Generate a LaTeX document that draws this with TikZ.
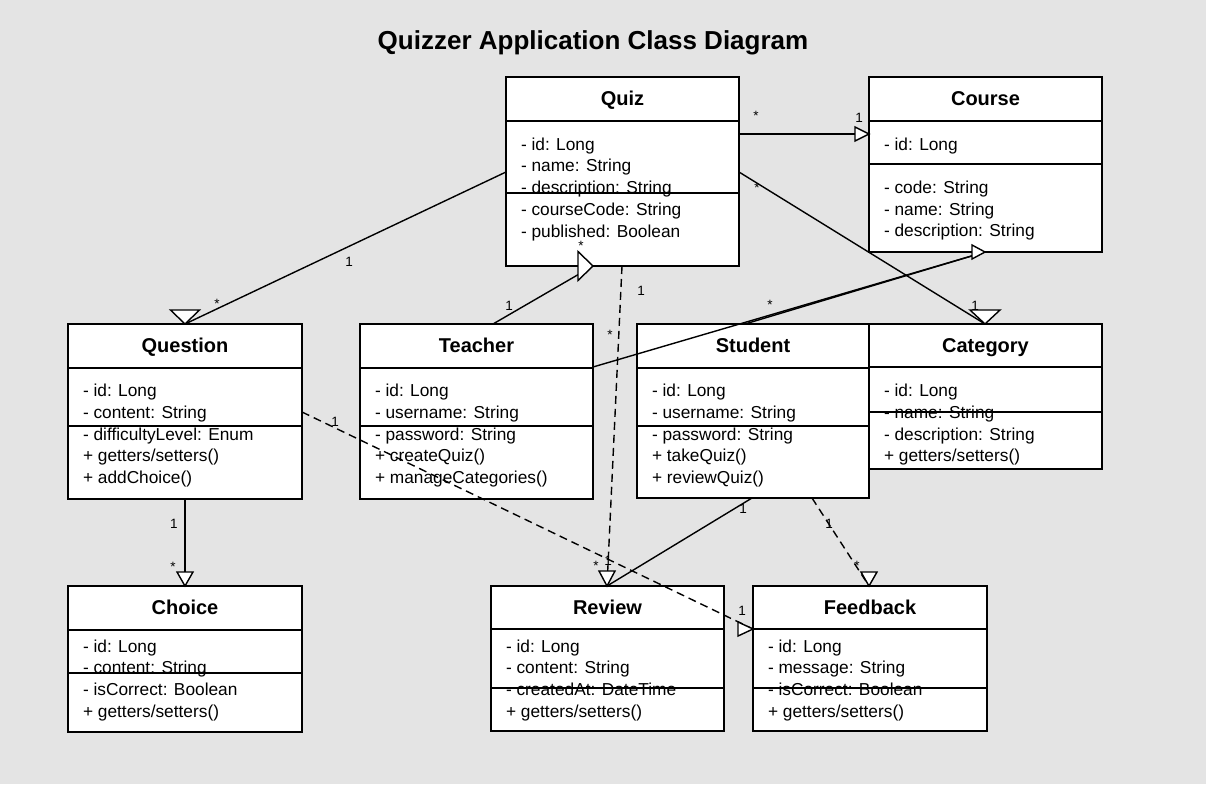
\documentclass[tikz,border=0pt]{standalone}
\usepackage{fontspec}
\setmainfont{Liberation Sans}
\definecolor{bggray}{RGB}{228,228,228}
\newcommand{\umlclass}[8]{%
  \node[classbox, minimum width={(#4-#2)*1pt}, minimum height={(#5-#3)*1pt}] (#1) at (#2,#3) {};
  \draw[divider] (#2,#6) -- (#4,#6);
  \draw[divider] (#2,#7) -- (#4,#7);
  \node[ctitle] (#1-title) at ({(#2+#4)/2},#3+28) {#8};
}
\newcommand{\umllines}[4]{%
  \foreach \tx [count=\i from 0] in {#4} {
    \node[attr] (#1-\i) at (#2+15, #3+\i*21.75) {\tx};
  }
}
\newcommand{\tridown}[4]{\draw[headtri] (#1-#3,#2-#4) -- (#1+#3,#2-#4) -- (#1,#2) -- cycle;}
\newcommand{\triright}[4]{\draw[headtri] (#1-#4,#2-#3) -- (#1-#4,#2+#3) -- (#1,#2) -- cycle;}
\begin{document}
\begin{tikzpicture}[x=1pt,y=-1pt,
  every node/.style={inner sep=0pt, outer sep=0pt},
  classbox/.style={draw=black, line width=2.9pt, fill=white, anchor=north west},
  divider/.style={line width=2.9pt},
  ctitle/.style={font=\fontsize{20}{24}\selectfont\bfseries, anchor=base},
  attr/.style={font=\fontsize{17.3}{21.75}\selectfont, anchor=base west},
  mult/.style={font=\fontsize{13.5}{16}\selectfont, anchor=base},
  assoc/.style={line width=1.4pt},
  depend/.style={line width=1.4pt, dash pattern=on 8pt off 5pt},
  headtri/.style={draw=black, fill=white, line width=1.4pt, line join=miter}
]
\fill[bggray] (0,0) rectangle (1206,784);
\useasboundingbox (0,0) rectangle (1206,784);

\node[font=\fontsize{26}{30}\selectfont\bfseries, anchor=base] (title) at (593,49) {Quizzer Application Class Diagram};

% classes
\umlclass{quiz}{506}{77}{739}{266}{121}{193}{Quiz}
\umllines{quiz}{506}{150}{{- id: Long},{- name: String},{- description: String},{- courseCode: String},{- published: Boolean}}

\umlclass{course}{869}{77}{1102}{252}{121}{164}{Course}
\umllines{course}{869}{150}{{- id: Long}}
\umllines{coursem}{869}{193.3}{{- code: String},{- name: String},{- description: String}}

\umlclass{question}{68}{324}{302}{499}{368}{426}{Question}
\umllines{question}{68}{396.7}{{- id: Long},{- content: String},{- difficultyLevel: Enum},{+ getters/setters()},{+ addChoice()}}

\umlclass{teacher}{360}{324}{593}{499}{368}{426}{Teacher}
\umllines{teacher}{360}{396.7}{{- id: Long},{- username: String},{- password: String},{+ createQuiz()},{+ manageCategories()}}

\umlclass{student}{637}{324}{869}{498}{368}{426}{Student}
\umllines{student}{637}{396.7}{{- id: Long},{- username: String},{- password: String},{+ takeQuiz()},{+ reviewQuiz()}}

\umlclass{category}{869}{324}{1102}{469}{367}{412}{Category}
\umllines{category}{869}{396.7}{{- id: Long},{- name: String},{- description: String},{+ getters/setters()}}

\umlclass{choice}{68}{586}{302}{732}{630}{673}{Choice}
\umllines{choice}{68}{652}{{- id: Long},{- content: String},{- isCorrect: Boolean},{+ getters/setters()}}

\umlclass{review}{491}{586}{724}{731}{629}{688}{Review}
\umllines{review}{491}{652}{{- id: Long},{- content: String},{- createdAt: DateTime},{+ getters/setters()}}

\umlclass{feedback}{753}{586}{987}{731}{629}{688}{Feedback}
\umllines{feedback}{753}{652}{{- id: Long},{- message: String},{- isCorrect: Boolean},{+ getters/setters()}}

% connector end points
\coordinate (qz-e1) at (739,134);
\coordinate (co-w1) at (869,134);
\coordinate (qz-e2) at (739,172);
\coordinate (ca-n1) at (985,324);
\coordinate (qz-w1) at (506,172);
\coordinate (qu-n1) at (185,324);
\coordinate (te-n1) at (493,324);
\coordinate (qz-s1) at (593,266);
\coordinate (te-e1) at (593,367);
\coordinate (co-s1) at (985,252);
\coordinate (st-n1) at (745,324);
\coordinate (qz-s2) at (622,266);
\coordinate (re-n1) at (607,586);
\coordinate (qu-e1) at (302,412);
\coordinate (fe-w1) at (753,629);
\coordinate (st-s1) at (752,498);
\coordinate (st-s2) at (812,498);
\coordinate (fe-n1) at (869,586);
\coordinate (qu-s1) at (185,499);
\coordinate (ch-n1) at (185,586);

% connectors
\draw[assoc] (qz-e1) -- (co-w1);
\draw[assoc] (qz-e2) -- (ca-n1);
\draw[assoc] (qz-w1) -- (qu-n1);
\draw[assoc] (te-n1) -- (qz-s1);
\draw[assoc] (te-e1) -- (co-s1);
\draw[assoc] (st-n1) -- (co-s1);
\draw[depend] (qz-s2) -- (re-n1);
\draw[depend] (qu-e1) -- (fe-w1);
\draw[assoc] (st-s1) -- (re-n1);
\draw[depend] (st-s2) -- (fe-n1);
\draw[assoc] (qu-s1) -- (ch-n1);

% multiplicities
\node[mult] (m1) at (756,120.5) {*};
\node[mult] (m2) at (859,122) {1};
\node[mult] (m3) at (757,192.5) {*};
\node[mult] (m4) at (975,310) {1};
\node[mult] (m5) at (349,266) {1};
\node[mult] (m6) at (217,308.5) {*};
\node[mult] (m7) at (509,310) {1};
\node[mult] (m8) at (581,250.5) {*};
\node[mult] (m9) at (641,295) {1};
\node[mult] (m10) at (610,339.5) {*};
\node[mult] (m11) at (770,309.5) {*};
\node[mult] (m12) at (335,426) {1};
\node[mult] (m13) at (742,615) {1};
\node[mult] (m14) at (174,528) {1};
\node[mult] (m15) at (173,571.5) {*};
\node[mult] (m16) at (743,513) {1};
\node[mult] (m17) at (596,570.5) {*};
\node[mult] (m18) at (608,565) {1};
\node[mult] (m19) at (829,528) {1};
\node[mult] (m20) at (857,570.5) {*};

% arrow heads
\triright{869}{134}{7}{14}
\tridown{985}{324}{15}{14}
\tridown{185}{324}{14.5}{14}
\triright{593}{266}{14.5}{15}
\triright{985}{252}{7}{13}
\tridown{607}{586}{8}{15}
\triright{753}{629}{7}{15}
\tridown{869}{586}{8}{14}
\tridown{185}{586}{8}{14}
\end{tikzpicture}
\end{document}
